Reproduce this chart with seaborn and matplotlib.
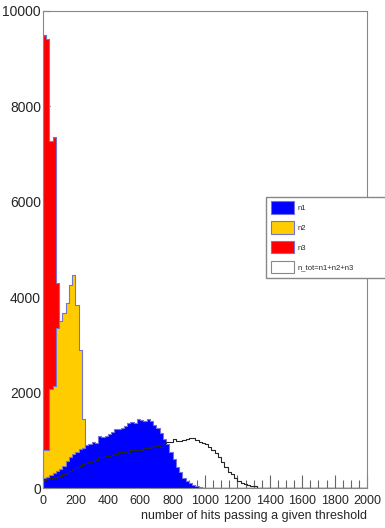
import numpy as np
import matplotlib
matplotlib.use("Agg")
import matplotlib.pyplot as plt
import seaborn as sns
from matplotlib.patches import Patch
from matplotlib.ticker import MultipleLocator

# bins of 20 hits from 0 to 2000
bin_edges = list(range(0, 2001, 20))

# counts per bin, starting at bin 0 (only bins that show up in the picture)
n3 = [9500, 9420, 7270, 7350, 4290]
n2 = [800, 800, 2080, 2130, 3350, 3500, 3660, 3870, 4250, 4460, 3830, 2900, 1440]
n1 = [210, 240, 270, 320, 360, 395, 465, 570, 640, 710,
      760, 820, 830, 900, 930, 965, 935, 1090, 1070, 1090,
      1125, 1175, 1230, 1240, 1260, 1300, 1355, 1380, 1370, 1440,
      1430, 1410, 1440, 1400, 1320, 1265, 1160, 1020, 915, 745,
      605, 430, 325, 220, 150, 105, 60, 35, 15, 8]
n_tot = [170, 180, 200, 220, 230, 260, 290, 320, 360, 390,
         430, 460, 500, 520, 550, 575, 590, 640, 650, 665,
         680, 700, 720, 745, 760, 755, 740, 800, 790, 800,
         795, 840, 830, 855, 880, 885, 860, 950, 960, 965,
         1020, 990, 990, 1000, 1020, 1055, 1040, 1000, 965, 950,
         915, 860, 790, 730, 640, 535, 430, 340, 290, 200,
         150, 105, 85, 60, 50, 35]

labels = ["n1", "n2", "n3", "n_tot=n1+n2+n3"]
colors = ["#0000ff", "#ffcc00", "#ff0000", "#ffffff"]
edge = "#7474d6"

sns.set_theme(style="white")
plt.rcParams["font.family"] = ["Liberation Sans", "DejaVu Sans"]

fig = plt.figure(figsize=(3.85, 5.28), dpi=100)
ax = fig.add_axes([43 / 385, 1 - 488 / 528, (367 - 43) / 385, (488 - 11) / 528])


def centers_of(counts):
    return [e + 10 for e in bin_edges[:len(counts)]]


def draw(counts, color):
    sns.histplot(x=centers_of(counts), weights=counts, bins=bin_edges,
                 element="step", fill=True, color=color, alpha=1,
                 edgecolor=edge, linewidth=0.8, ax=ax)


draw(n3, colors[2])
draw(n2, colors[1])
draw(n1, colors[0])
sns.histplot(x=centers_of(n_tot), weights=n_tot, bins=bin_edges,
             element="step", fill=False, color="#262626", linewidth=0.8, ax=ax)

ax.set_xlim(0, 2000)
ax.set_ylim(0, 10000)
ax.set_ylabel("")
ax.set_xlabel("number of hits passing a given threshold", loc="right",
              fontsize=9, labelpad=2)

ax.xaxis.set_major_locator(MultipleLocator(200))
ax.xaxis.set_minor_locator(MultipleLocator(50))
ax.yaxis.set_major_locator(MultipleLocator(2000))
ax.yaxis.set_minor_locator(MultipleLocator(500))
ax.tick_params(axis="x", which="major", direction="in", length=9.5, width=0.8,
               color="#666666", labelsize=9, pad=5, bottom=True, top=False)
ax.tick_params(axis="x", which="minor", direction="in", length=5.5, width=0.8,
               color="#666666", bottom=True, top=False)
ax.tick_params(axis="y", which="major", direction="in", length=4.8, width=0.8,
               color="#333333", labelsize=10, pad=1.5, left=True, right=False)
ax.tick_params(axis="y", which="minor", direction="in", length=2.5, width=0.8,
               color="#333333", left=True, right=False)
ax.xaxis.set_zorder(0.5)
for s in ax.spines.values():
    s.set_color("#888888")
    s.set_linewidth(0.8)

handles = [Patch(facecolor=c, edgecolor=edge if i < 3 else "#888888", lw=0.8, label=l)
           for i, (c, l) in enumerate(zip(colors, labels))]
fig.legend(handles=handles, loc="lower left",
           bbox_to_anchor=(266 / 385, 1 - 278 / 528, 0.35, 90 / 528),
           mode="expand", fontsize=5.5, handlelength=3.0, handleheight=2.1,
           labelspacing=1.0, handletextpad=0.5, borderaxespad=0, borderpad=0.6,
           frameon=True, fancybox=False, framealpha=1, edgecolor="#888888")

fig.savefig("out.png", dpi=100)
